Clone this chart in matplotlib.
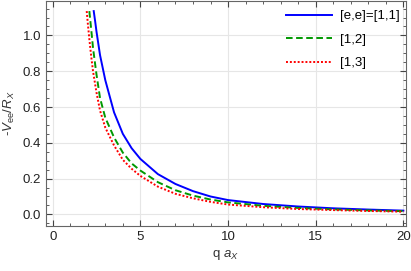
import matplotlib
matplotlib.use("Agg")
import matplotlib.pyplot as plt
from matplotlib.ticker import MultipleLocator, FormatStrFormatter

# values
q_11 = [2.34, 2.42, 2.5, 2.7, 3.0, 3.5, 4.0, 4.5, 5.0, 6.0, 7.0, 8.0, 9.0, 10.0, 12.0, 14.0, 16.0, 18.0, 20.0]
v_11 = [1.136, 1.08, 1.02, 0.89, 0.75, 0.57, 0.45, 0.37, 0.31, 0.225, 0.17, 0.13, 0.10, 0.08, 0.058, 0.044, 0.034, 0.027, 0.021]

q_12 = [2.09, 2.2, 2.3, 2.5, 2.7, 3.0, 3.5, 4.0, 4.5, 5.0, 6.0, 7.0, 8.0, 9.0, 10.0, 12.0, 14.0, 16.0, 18.0, 20.0]
v_12 = [1.136, 1.03, 0.93, 0.78, 0.65, 0.54, 0.43, 0.345, 0.285, 0.245, 0.18, 0.135, 0.105, 0.083, 0.067, 0.048, 0.036, 0.028, 0.022, 0.018]

q_13 = [1.94, 2.0, 2.1, 2.2, 2.3, 2.5, 2.7, 3.0, 3.5, 4.0, 4.5, 5.0, 6.0, 7.0, 8.0, 9.0, 10.0, 12.0, 14.0, 16.0, 18.0, 20.0]
v_13 = [1.136, 1.07, 0.97, 0.88, 0.80, 0.68, 0.58, 0.485, 0.385, 0.305, 0.255, 0.215, 0.155, 0.115, 0.09, 0.07, 0.055, 0.04, 0.03, 0.024, 0.019, 0.015]

labels = ["[e,e]=[1,1]", "[1,2]", "[1,3]"]

plt.rcParams['font.family'] = ['Liberation Sans', 'DejaVu Sans']
plt.rcParams['mathtext.fontset'] = 'custom'
plt.rcParams['mathtext.it'] = 'Liberation Sans:italic'
plt.rcParams['mathtext.rm'] = 'Liberation Sans'

fig = plt.figure(figsize=(4.11, 2.71), dpi=100)
ax = fig.add_axes([0.112, 0.166, 0.875, 0.832])

ax.plot(q_11, v_11, color='#0000ff', lw=1.4, label=labels[0])
ax.plot(q_12, v_12, color='#009900', lw=1.4, ls=(0, (3.4, 1.8)), label=labels[1])
ax.plot(q_13, v_13, color='#ff0000', lw=1.4, ls=(0, (1, 1)), label=labels[2])

ax.set_xlim(-0.38, 20.13)
ax.set_ylim(-0.065, 1.195)
ax.xaxis.set_major_locator(MultipleLocator(5))
ax.xaxis.set_minor_locator(MultipleLocator(1))
ax.yaxis.set_major_locator(MultipleLocator(0.2))
ax.yaxis.set_minor_locator(MultipleLocator(0.05))
ax.yaxis.set_major_formatter(FormatStrFormatter('%.1f'))

ax.grid(True, which='major', color='#e6e6e6', lw=0.8)
ax.tick_params(which='both', direction='in', top=True, right=True,
               colors='#444444', labelcolor='#222222', labelsize=9.5)
ax.tick_params(which='major', length=4.5, width=0.8)
ax.tick_params(which='minor', length=2.5, width=0.6)
for s in ax.spines.values():
    s.set_color('#666666')

ax.set_xlabel("q $a_X$", fontsize=9.5, color='#333333')
ax.set_ylabel("-$V_{\\rm ee}/R_X$", fontsize=9.5, color='#333333')

ax.legend(loc='upper right', frameon=False, fontsize=9.5, handlelength=3.5,
          handletextpad=0.55, labelspacing=0.85, borderaxespad=0,
          bbox_to_anchor=(0.997, 0.981))

fig.savefig("out.png", dpi=100)
